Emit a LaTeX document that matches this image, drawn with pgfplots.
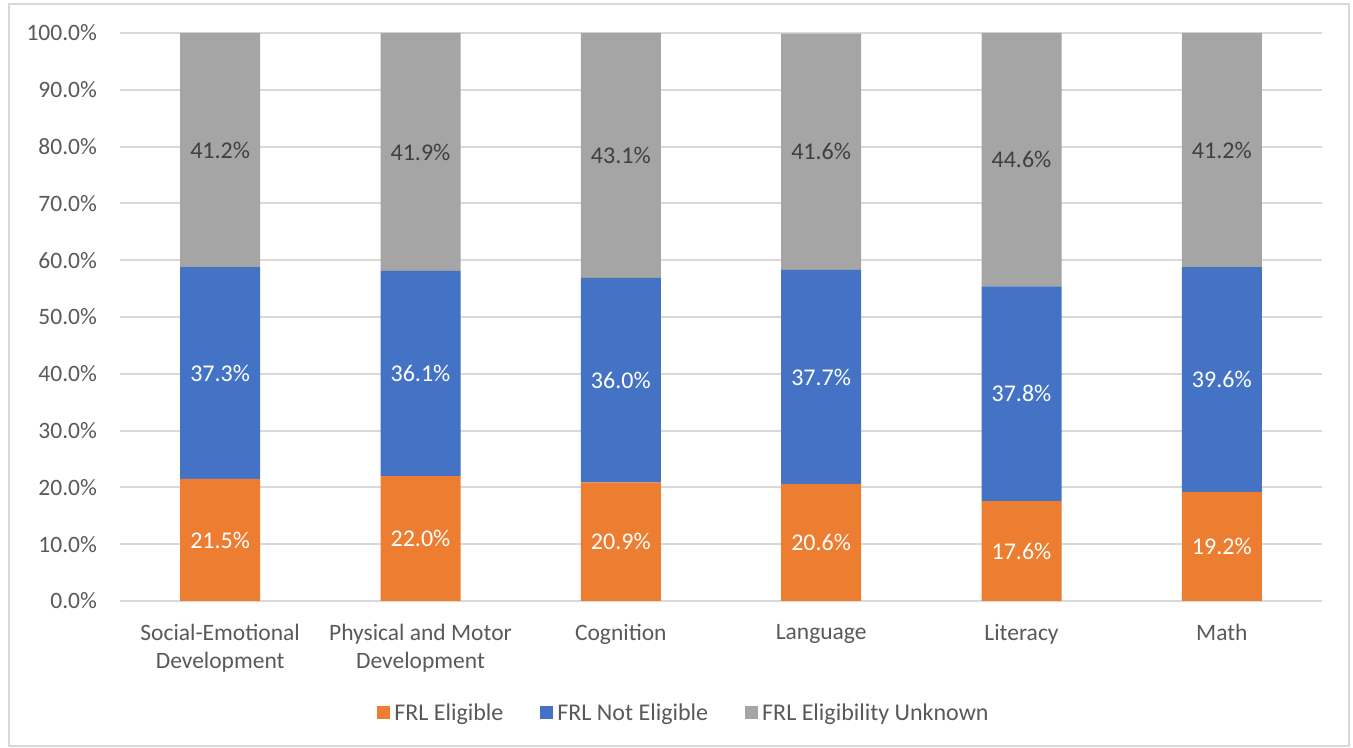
\documentclass[border=0pt]{standalone}
\usepackage{fontspec}
\setmainfont{Carlito}
\usepackage{pgfplots}
\usepackage{pgfplotstable}
\pgfplotsset{compat=1.18}

\definecolor{frlorange}{HTML}{ED7D31}
\definecolor{frlblue}{HTML}{4472C4}
\definecolor{frlgray}{HTML}{A5A5A5}
\definecolor{txtgray}{HTML}{595959}
\definecolor{gridgray}{HTML}{D9D9D9}

% share of children in each domain, by FRL status (percent)
\pgfplotstableread{
idx elig noteli unk
0 21.5 37.3 41.2
1 22.0 36.1 41.9
2 20.9 36.0 43.1
3 20.6 37.7 41.6
4 17.6 37.8 44.6
5 19.2 39.6 41.2
}\frl

\pgfplotsset{
  sq legend/.style={legend image code/.code={\fill[##1] (0pt,-2.5pt) rectangle (6.5pt,4pt);}},
  % stacked bars put the label mid-segment already
  seglabel/.style={
    nodes near coords={\pgfmathprintnumber[fixed,fixed zerofill,precision=1]{\pgfplotspointmeta}\%},
    point meta=explicit,
    every node near coord/.style={anchor=center, font=\fontsize{12}{14}\selectfont},
  },
}

\begin{document}
\begin{tikzpicture}
\begin{axis}[
  scale only axis, width=601pt, height=284pt,
  ybar stacked, bar width=40pt,
  xmin=-0.5, xmax=5.5, ymin=0, ymax=100,
  xtick={0,...,5},
  xticklabels={{Social-Emotional\\Development},{Physical and Motor\\Development},Cognition,Language,Literacy,Math},
  ytick={0,10,...,100},
  yticklabel={\pgfmathprintnumber[fixed,fixed zerofill,precision=1]{\tick}\%},
  /pgf/number format/assume math mode=true,
  major tick length=0pt,
  axis line style={draw=none},
  ymajorgrids, grid style={gridgray, line width=1pt},
  tick label style={font=\fontsize{11.75}{14}\selectfont, text=txtgray},
  xticklabel style={align=center, yshift=-8pt},
  yticklabel style={xshift=-8pt},
  legend columns=3,
  legend style={at={(0.47,-0.199)}, anchor=center, draw=none, fill=none,
    font=\fontsize{12}{14}\selectfont, text=txtgray,
    /tikz/every even column/.append style={column sep=16.5pt}},
  clip=false,
]
\addplot[fill=frlorange, draw=none, sq legend, seglabel,
  every node near coord/.append style={text=white}]
  table[x=idx, y=elig, meta=elig] {\frl};
\addlegendentry{FRL Eligible}
\addplot[fill=frlblue, draw=none, sq legend, seglabel,
  every node near coord/.append style={text=white}]
  table[x=idx, y=noteli, meta=noteli] {\frl};
\addlegendentry{FRL Not Eligible}
\addplot[fill=frlgray, draw=none, sq legend, seglabel,
  every node near coord/.append style={text=black!75}]
  table[x=idx, y=unk, meta=unk] {\frl};
\addlegendentry{FRL Eligibility Unknown}
\end{axis}
\draw[gridgray, line width=1pt] ([xshift=-55.5pt,yshift=-72.5pt]current axis.south west)
  rectangle ([xshift=13.5pt,yshift=14.5pt]current axis.north east);
\path ([xshift=-60pt,yshift=-73.5pt]current axis.south west)
  rectangle ([xshift=15.5pt,yshift=16.5pt]current axis.north east);
\end{tikzpicture}
\end{document}
